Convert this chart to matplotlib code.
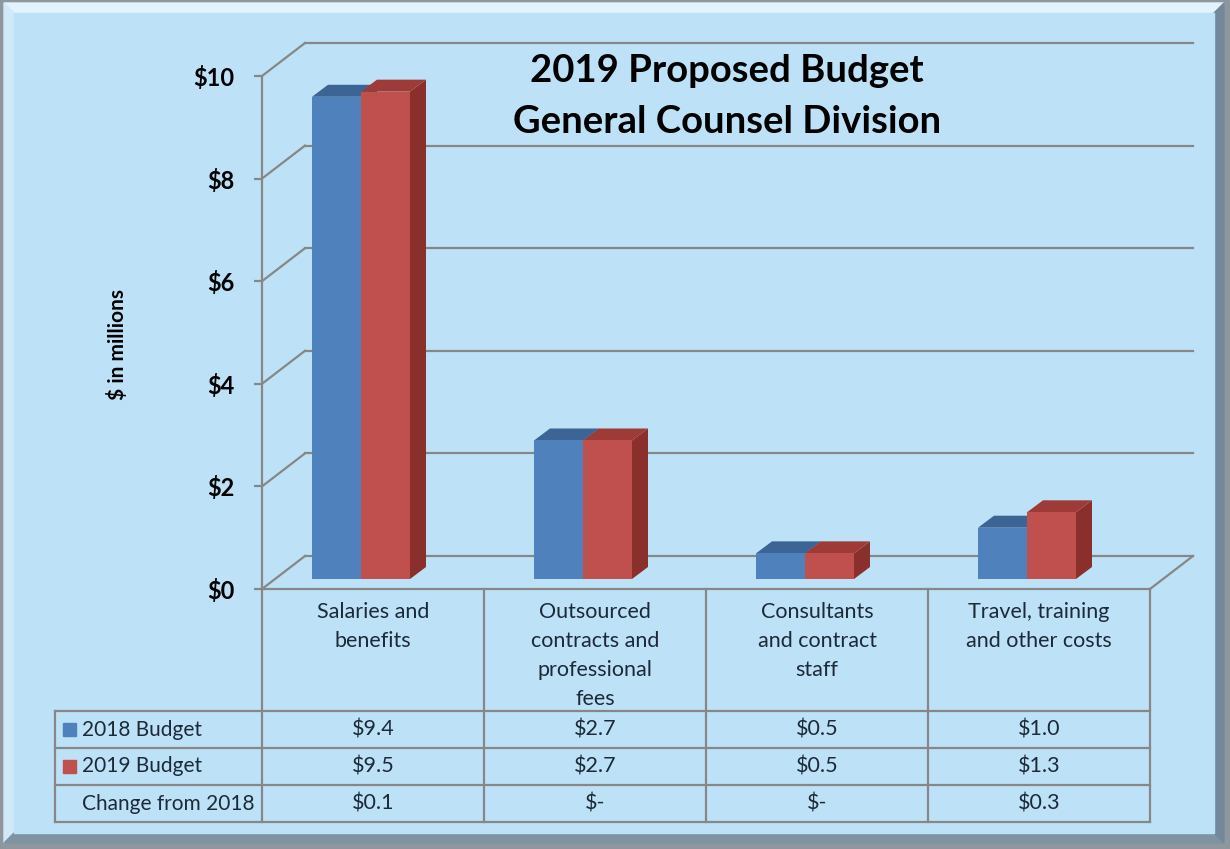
import matplotlib.pyplot as plt
import numpy as np
from matplotlib.patches import Polygon, Rectangle

plt.rcParams['font.family'] = ['Lato', 'DejaVu Sans']

# data
categories = ['Salaries and\nbenefits',
              'Outsourced\ncontracts and\nprofessional\nfees',
              'Consultants\nand contract\nstaff',
              'Travel, training\nand other costs']
budget_2018 = [9.4, 2.7, 0.5, 1.0]
budget_2019 = [9.5, 2.7, 0.5, 1.3]
change_2018 = ['$0.1', '$-', '$-', '$0.3']
row_names = ['2018 Budget', '2019 Budget', 'Change from 2018']
yticks = [0, 2, 4, 6, 8, 10]
title_lines = ['2019 Proposed Budget', 'General Counsel Division']

blue, blue_top, blue_side = '#4F81BD', '#3C6595', '#345784'
red, red_top, red_side = '#C0504D', '#9E3B38', '#8A2F2C'
grey = '#878787'
txt = '#1c2a38'
panel = '#BDE2F7'

W, H = 1230, 849
fig = plt.figure(figsize=(12.3, 8.49), dpi=100)
fig.patch.set_facecolor('#8f979e')


def box(x0, y0, x1, y1):
    # pixel box (top-left origin) -> figure fraction rect
    return [x0 / W, 1 - y1 / H, (x1 - x0) / W, (y1 - y0) / H]


# beveled frame
bg = fig.add_axes([0, 0, 1, 1], zorder=-5)
bg.set_xlim(0, W)
bg.set_ylim(H, 0)
bg.axis('off')
o, b = 4, 10
xa, ya, xb, yb = o, o - 1, W - o - 2, H - o - 2
bg.add_patch(Polygon([(xa, ya), (xb, ya), (xb - b, ya + b), (xa + b, ya + b)], color='#e2f3fc'))
bg.add_patch(Polygon([(xa, ya), (xa + b, ya + b), (xa + b, yb - b), (xa, yb)], color='#cfe9f8'))
bg.add_patch(Polygon([(xa, yb), (xa + b, yb - b), (xb - b, yb - b), (xb, yb)], color='#7f93a3'))
bg.add_patch(Polygon([(xb, ya), (xb - b, ya + b), (xb - b, yb - b), (xb, yb)], color='#73899b'))
bg.add_patch(Rectangle((xa + b, ya + b), xb - xa - 2 * b, yb - ya - 2 * b, color=panel))

# chart area: front wall at x=262, floor front at y=589
px_x, px_y = 222.0, 51.3
ddx, ddy = 43 / px_x, 33 / px_y     # depth of the back wall
ax = fig.add_axes(box(262, 43, 1193, 589))
ax.set_xlim(-0.5, 3.5 + ddx)
ax.set_ylim(0, 10 + ddy)
ax.patch.set_alpha(0)
for s in ['top', 'right', 'bottom']:
    ax.spines[s].set_visible(False)
ax.spines['left'].set_bounds(0, 10)
ax.spines['left'].set_color(grey)
ax.spines['left'].set_linewidth(1.6)
ax.set_xticks([])
ax.set_yticks(yticks)
ax.set_yticklabels([f'${v}' for v in yticks], fontsize=17, fontweight='bold')
ax.tick_params(axis='y', length=6, width=1.6, color=grey, pad=14)
ax.set_ylabel('$ in millions', fontsize=15, fontweight='bold')
ax.yaxis.set_label_coords(-0.144, 0.447)

# side diagonals and back gridlines
for v in yticks:
    ax.plot([-0.5, -0.5 + ddx], [v, v + ddy], color=grey, lw=1.6, clip_on=False, zorder=1)
    ax.plot([-0.5 + ddx, 3.5 + ddx], [v + ddy, v + ddy], color=grey, lw=1.6, clip_on=False, zorder=1)
ax.plot([3.5, 3.5 + ddx], [0, ddy], color=grey, lw=1.6, clip_on=False, zorder=1)

# 3d bars
x = np.arange(len(categories))
w = 49 / px_x
shift = -12 / px_x
base = 10 / px_y
bdx, bdy = 16 / px_x, 12 / px_y


def bars3d(left, vals, front, top, side, z):
    ax.bar(left + w / 2, vals, width=w, bottom=base, color=front, zorder=z + 2)
    for l, v in zip(left, vals):
        t = base + v
        r = l + w
        ax.add_patch(Polygon([(l, t), (l + bdx, t + bdy), (r + bdx, t + bdy), (r, t)],
                             color=top, zorder=z + 1, lw=0))
        ax.add_patch(Polygon([(r, base), (r + bdx, base + bdy), (r + bdx, t + bdy), (r, t)],
                             color=side, zorder=z, lw=0))


bars3d(x + shift - w, budget_2018, blue, blue_top, blue_side, 2)
bars3d(x + shift, budget_2019, red, red_top, red_side, 5)

# data table below the chart
head_h = 122 / 37
left_x = -0.5 - (262 - 55) / px_x
tab = fig.add_axes(box(55, 589, 1150, 822))
tab.set_xlim(left_x, 3.5)
tab.set_ylim(0, 3 + head_h)
tab.axis('off')
top_y = 3 + head_h
lk = dict(color=grey, lw=1.6, clip_on=False)
tab.plot([-0.5, 3.5], [top_y, top_y], **lk)
for yy in [3, 2, 1, 0]:
    tab.plot([left_x, 3.5], [yy, yy], **lk)
for xx in np.arange(-0.5, 3.6, 1.0):
    tab.plot([xx, xx], [0, top_y], **lk)
tab.plot([left_x, left_x], [0, 3], **lk)

for i, c in enumerate(categories):
    tab.text(i, top_y - 0.36, c, ha='center', va='top', fontsize=15.5,
             color=txt, linespacing=1.55)

rows = [[f'${v:.1f}' for v in budget_2018],
        [f'${v:.1f}' for v in budget_2019],
        change_2018]
for r, (name, vals) in enumerate(zip(row_names, rows)):
    yc = 2.5 - r
    tab.text(left_x + 27 / px_x, yc, name, ha='left', va='center', fontsize=15, color=txt)
    for i, v in enumerate(vals):
        tab.text(i, yc, v, ha='center', va='center', fontsize=15.5, color=txt)
for r, col in enumerate([blue, red]):
    tab.add_patch(Rectangle((left_x + 8 / px_x, 2.5 - r - 0.18), 13 / px_x, 0.36,
                            color=col, clip_on=False))

# title
for line, yc in zip(title_lines, [71, 122]):
    fig.text(727 / W, 1 - yc / H, line, ha='center', va='center', fontsize=27.5,
             fontweight='bold', color='black')

fig.savefig('out.png', dpi=100, facecolor=fig.get_facecolor())
